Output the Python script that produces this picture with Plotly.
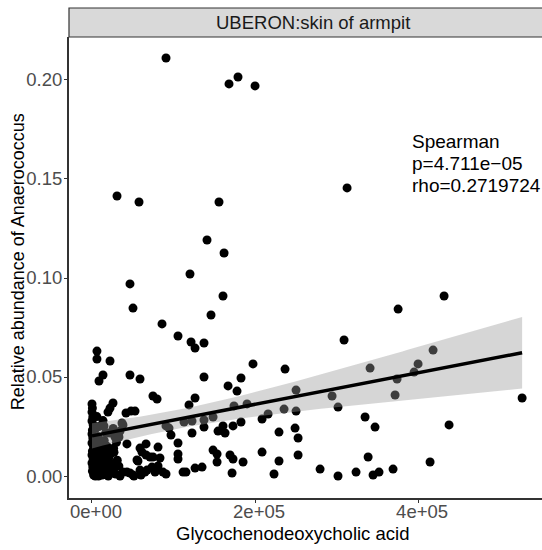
import numpy as np
import plotly.graph_objects as go

# ---- data ----
x_vals = [
    90800, 168100, 179100, 200000, 30700, 57700, 155800, 141100, 162000, 120200,
    46600, 160700, 312900, 431900, 50300, 146000, 85900, 105500, 121500, 126400,
    137400, 6100, 6100, 22100, 197500, 236800, 13500, 8600, 46600, 58900,
    137400, 182800, 166900, 177900, 74800, 79800, 126400, 119000, 25800, 22100,
    19600, 47900, 52800, 41700, 250300, 235600, 250300, 208600, 216000, 174200,
    190200, 148500, 137400, 112900, 122700, 90800, 94500, 137400, 160700, 154600,
    163200, 173000, 182800, 96900, 122700, 38000, 34400, 33100, 249100, 229400,
    252800, 105500, 42900, 58900, 66300, 81000, 148500, 153400, 153400, 105500,
    105500, 66300, 74800, 83400, 56400, 169300, 173000, 185300, 208600, 229400,
    252800, 81000, 77300, 111700, 115300, 126400, 135000, 90800, 171800, 223300,
    46600, 58900, 60100, 38000, 51500, 375500, 309200, 418400, 400000, 395100,
    341100, 374200, 371800, 527600, 294500, 301800, 335000, 347200, 438000, 279800,
    301800, 323900, 338700, 344800, 352100, 369300, 414700,
    0, 500, 0, 1000, 0, 1500, 500, 0, 1000, 0, 2000, 500, 0, 1500, 0, 1000, 500, 2000,
    6000, 8500, 7000, 9500, 6500, 8000, 10000, 7000, 4000, 3500, 5000,
    13500, 17000, 15000, 19000, 14000, 18000, 16000, 12500, 20500, 21000,
    26000, 30000, 27000, 31000, 25500, 29000, 33000,
    9800, 22100, 28200, 4900, 14700,
    36800, 55200, 73600, 67500, 79800, 87100, 42900, 34400, 50300, 65000, 71200, 61300,
    3000, 5500, 8000, 11000, 12000, 2500, 4500, 7500, 10500, 13000,
    3000, 5500, 9000, 11500, 2500, 6000, 9000, 12000, 15500, 17500,
    19500, 22500, 24000, 23500, 18500, 26500, 20000, 4000, 8000, 11000,
]
y_vals = [
    0.2111, 0.1980, 0.2015, 0.1970, 0.1414, 0.1384, 0.1384, 0.1192, 0.1126, 0.1020,
    0.0970, 0.0909, 0.1455, 0.0909, 0.0848, 0.0813, 0.0768, 0.0707, 0.0677, 0.0646,
    0.0672, 0.0631, 0.0591, 0.0581, 0.0566, 0.0540, 0.0510, 0.0480, 0.0510, 0.0490,
    0.0500, 0.0495, 0.0455, 0.0429, 0.0404, 0.0389, 0.0394, 0.0359, 0.0369, 0.0343,
    0.0323, 0.0328, 0.0328, 0.0318, 0.0434, 0.0338, 0.0328, 0.0288, 0.0313, 0.0354,
    0.0364, 0.0298, 0.0283, 0.0273, 0.0278, 0.0253, 0.0242, 0.0247, 0.0253, 0.0227,
    0.0217, 0.0253, 0.0273, 0.0207, 0.0217, 0.0258, 0.0227, 0.0197, 0.0242, 0.0222,
    0.0192, 0.0167, 0.0162, 0.0141, 0.0162, 0.0146, 0.0131, 0.0111, 0.0071, 0.0111,
    0.0086, 0.0106, 0.0096, 0.0091, 0.0076, 0.0106, 0.0086, 0.0071, 0.0121, 0.0076,
    0.0106, 0.0051, 0.0020, 0.0020, 0.0020, 0.0040, 0.0045, 0.0010, 0.0015, 0.0010,
    0.0015, 0.0030, 0.0005, 0.0020, 0.0000, 0.0843, 0.0687, 0.0636, 0.0566, 0.0525,
    0.0545, 0.0490, 0.0409, 0.0394, 0.0404, 0.0348, 0.0298, 0.0247, 0.0258, 0.0035,
    0.0000, 0.0020, 0.0096, 0.0005, 0.0020, 0.0035, 0.0071,
    0.0364, 0.0343, 0.0323, 0.0298, 0.0278, 0.0258, 0.0232, 0.0212, 0.0192, 0.0167,
    0.0146, 0.0126, 0.0106, 0.0086, 0.0066, 0.0045, 0.0025, 0.0005,
    0.0300, 0.0250, 0.0200, 0.0160, 0.0120, 0.0080, 0.0040, 0.0010, 0.0140, 0.0060, 0.0030,
    0.0280, 0.0220, 0.0180, 0.0140, 0.0100, 0.0060, 0.0030, 0.0005, 0.0090, 0.0020,
    0.0240, 0.0170, 0.0120, 0.0080, 0.0040, 0.0010, 0.0050,
    0.0180, 0.0217, 0.0197, 0.0242, 0.0253,
    0.0268, 0.0081, 0.0045, 0.0030, 0.0030, 0.0020, 0.0020, 0.0000, 0.0005, 0.0020, 0.0096, 0.0121,
    0.0155, 0.0135, 0.0150, 0.0125, 0.0160, 0.0115, 0.0095, 0.0105, 0.0085, 0.0070,
    0.0075, 0.0050, 0.0060, 0.0045, 0.0035, 0.0015, 0.0025, 0.0010, 0.0120, 0.0100,
    0.0040, 0.0110, 0.0060, 0.0015, 0.0150, 0.0140, 0.0000, 0.0000, 0.0000, 0.0020,
]

x_tickvals = [0, 200000, 400000]
x_ticktext = ["0e+00", "2e+05", "4e+05"]
y_tickvals = [0.00, 0.05, 0.10, 0.15, 0.20]
y_ticktext = ["0.00", "0.05", "0.10", "0.15", "0.20"]

strip_label = "UBERON:skin of armpit"
x_title = "Glycochenodeoxycholic acid"
y_title = "Relative abundance of Anaerococcus"
stat_lines = ["Spearman", "p=4.711e\u221205", "rho=0.2719724"]

# ---- linear fit with 95% confidence band (like geom_smooth(method='lm')) ----
x = np.array(x_vals, dtype=float)
y = np.array(y_vals, dtype=float)
n = len(x)
xm, ym = x.mean(), y.mean()
sxx = ((x - xm) ** 2).sum()
slope = ((x - xm) * (y - ym)).sum() / sxx
icpt = ym - slope * xm
resid = y - (icpt + slope * x)
s = np.sqrt((resid ** 2).sum() / (n - 2))
xs = np.linspace(x.min(), x.max(), 80)
yf = icpt + slope * xs
se = s * np.sqrt(1.0 / n + (xs - xm) ** 2 / sxx)
tq = 1.972
upper = yf + tq * se
lower = yf - tq * se

FONT = "Liberation Sans, Arial, Helvetica, sans-serif"

fig = go.Figure()
fig.add_trace(go.Scatter(
    x=x_vals, y=y_vals, mode="markers",
    marker=dict(color="black", size=9, line=dict(width=0)),
    hoverinfo="skip", showlegend=False))
fig.add_trace(go.Scatter(
    x=np.concatenate([xs, xs[::-1]]), y=np.concatenate([upper, lower[::-1]]),
    fill="toself", fillcolor="rgba(153,153,153,0.4)", line=dict(width=0),
    mode="lines", hoverinfo="skip", showlegend=False))
fig.add_trace(go.Scatter(
    x=xs, y=yf, mode="lines", line=dict(color="black", width=3.5),
    hoverinfo="skip", showlegend=False))

axis_common = dict(
    showgrid=False, zeroline=False, showline=True, linecolor="#333333", linewidth=2,
    ticks="outside", ticklen=3, tickwidth=1, tickcolor="#333333",
    tickfont=dict(family=FONT, size=18.5, color="#4D4D4D"), mirror=False)

fig.update_layout(
    width=542, height=550,
    margin=dict(l=69, r=0, t=37, b=52),
    paper_bgcolor="white", plot_bgcolor="white",
    xaxis=dict(range=[-28200, 552000], tickvals=x_tickvals, ticktext=x_ticktext,
               ticklabelstandoff=-7, ticklabelshift=4, **axis_common),
    yaxis=dict(range=[-0.0111, 0.2217], tickvals=y_tickvals, ticktext=y_ticktext,
               ticklabelstandoff=-2, **axis_common),
    shapes=[dict(type="rect", xref="paper", yref="paper", x0=0, x1=1.01, y0=1.0, y1=1.0629,
                 fillcolor="#D9D9D9", line=dict(color="#333333", width=1.2), layer="above")],
)

ann = [
    dict(text=strip_label, xref="paper", yref="paper", x=0.515, y=1.0315,
         xanchor="center", yanchor="middle", showarrow=False,
         font=dict(family=FONT, size=18.5, color="#1A1A1A")),
    dict(text=x_title, xref="paper", yref="paper", x=0.472, y=-0.077,
         xanchor="center", yanchor="middle", showarrow=False,
         font=dict(family=FONT, size=18.5, color="black")),
    dict(text=y_title, xref="paper", yref="paper", x=-0.107, y=0.512,
         xanchor="center", yanchor="middle", showarrow=False, textangle=-90,
         font=dict(family=FONT, size=18, color="black")),
]
stat_y = [0.1687, 0.1576, 0.1465]
for txt, yy in zip(stat_lines, stat_y):
    ann.append(dict(text=txt, xref="x", yref="y", x=390000, y=yy,
                    xanchor="left", yanchor="middle", showarrow=False,
                    font=dict(family=FONT, size=19, color="black")))
fig.update_layout(annotations=ann)

fig.write_html("out.html")
